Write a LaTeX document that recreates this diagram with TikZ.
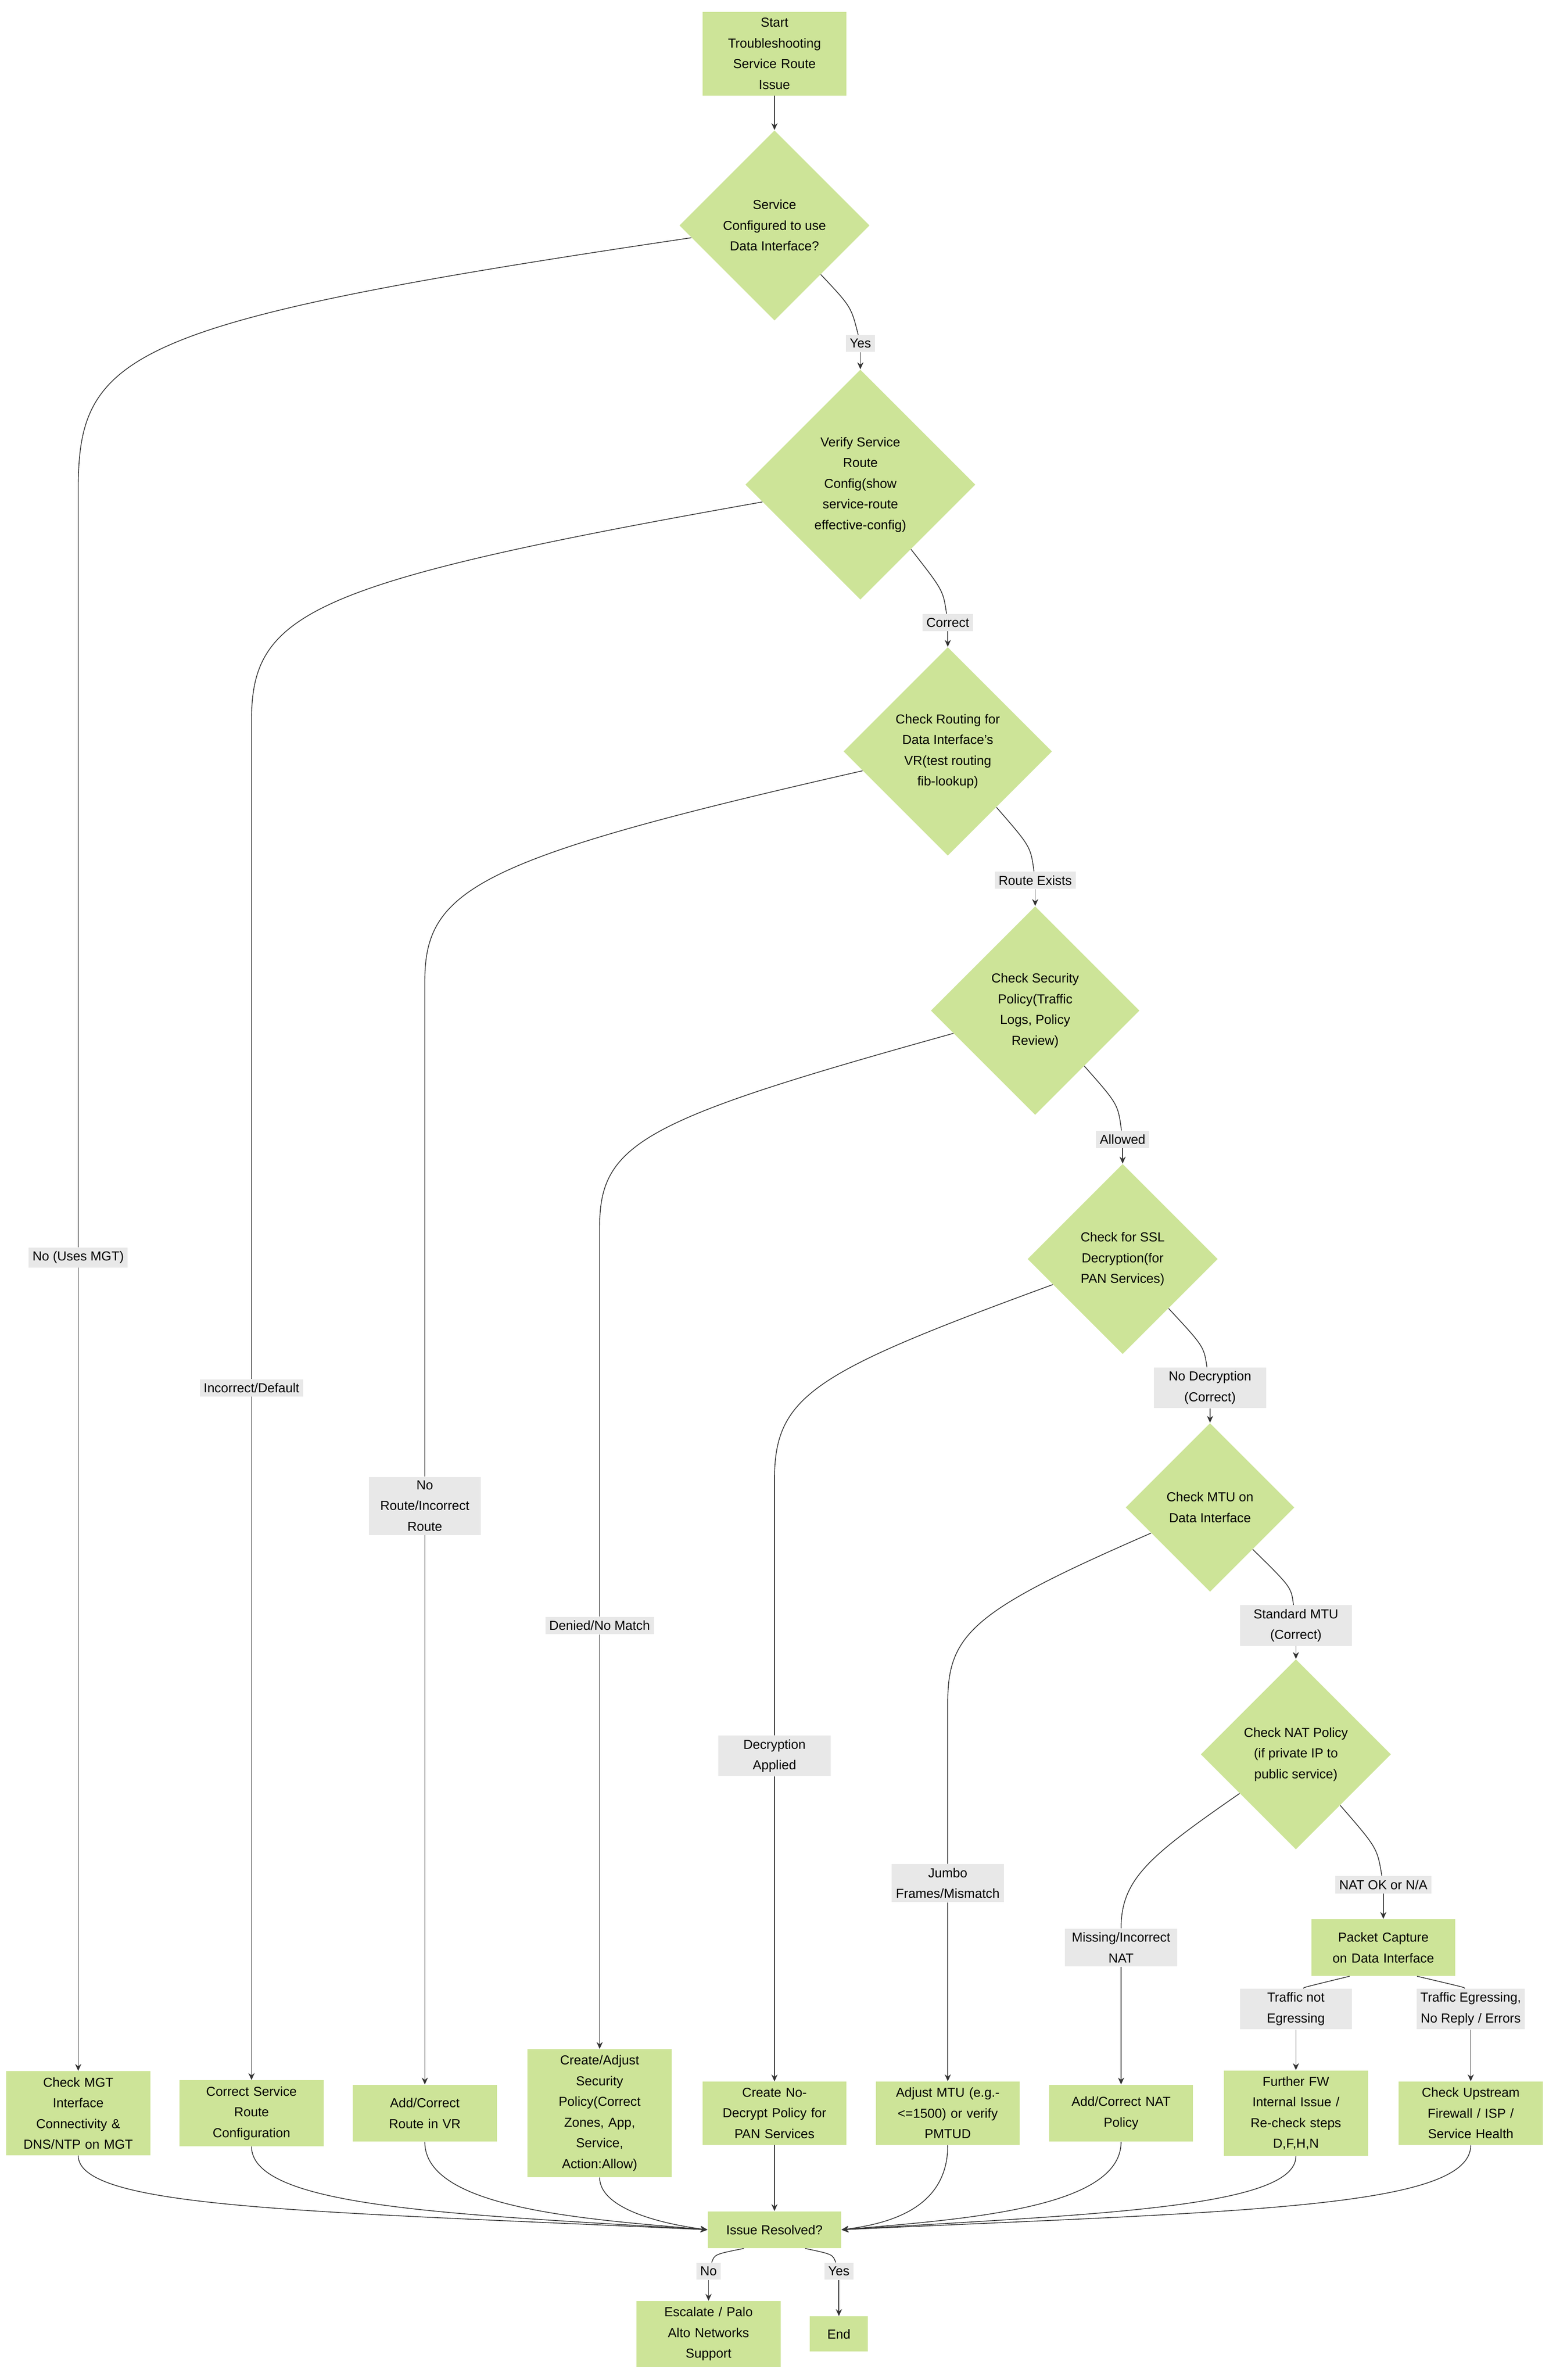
\documentclass[tikz,border=0pt]{standalone}
\usepackage{fontspec}
\setmainfont{Liberation Sans}
\usetikzlibrary{shapes.geometric,arrows.meta}

\definecolor{nodegreen}{HTML}{CDE498}
\definecolor{labelgray}{HTML}{E8E8E8}
\definecolor{linegray}{HTML}{333333}

\tikzset{
  boxbase/.style={fill=nodegreen, align=center, inner xsep=4pt, inner ysep=4pt,
    font=\fontsize{8.5}{13.5}\selectfont},
  stepbox/.style={boxbase, text width=86pt, minimum height=37pt},
  smallbox/.style={boxbase, inner ysep=2pt},
  decision/.style={diamond, fill=nodegreen, align=center, inner sep=0pt,
    font=\fontsize{8.5}{13.5}\selectfont},
  edgelabel/.style={fill=labelgray, align=center, inner sep=2.5pt,
    font=\fontsize{8.5}{13.5}\selectfont},
  line/.style={draw=linegray, line width=0.5pt},
  arr/.style={line, -{Stealth[length=4.5pt,width=4pt]}},
}

\begin{document}
\begin{tikzpicture}[x=1pt,y=-1pt]
  \useasboundingbox (0,0) rectangle (1010,1552);

  % main chain
  \node[stepbox] (start) at (505,35) {Start\\Troubleshooting\\Service Route\\Issue};
  \node[decision, minimum width=124pt, minimum height=124pt] (d1) at (505,147) {Service\\Configured to use\\Data Interface?};
  \node[decision, minimum width=150pt, minimum height=150pt] (d2) at (561,316) {Verify Service\\Route\\Config(show\\service-route\\effective-config)};
  \node[decision, minimum width=136pt, minimum height=136pt] (d3) at (618,490) {Check Routing for\\Data Interface's\\VR(test routing\\fib-lookup)};
  \node[decision, minimum width=136pt, minimum height=136pt] (d4) at (675,659) {Check Security\\Policy(Traffic\\Logs, Policy\\Review)};
  \node[decision, minimum width=124pt, minimum height=124pt] (d5) at (732,821) {Check for SSL\\Decryption(for\\PAN Services)};
  \node[decision, minimum width=110pt, minimum height=110pt] (d6) at (789,983) {Check MTU on\\Data Interface};
  \node[decision, minimum width=124pt, minimum height=124pt] (d7) at (845,1144) {Check NAT Policy\\(if private IP to\\public service)};
  \node[stepbox] (pcap) at (902,1270) {Packet Capture\\on Data Interface};

  % fixes
  \node[stepbox] (mgt) at (51,1378) {Check MGT\\Interface\\Connectivity \&\\DNS/NTP on MGT};
  \node[stepbox] (fixsr) at (164,1378) {Correct Service\\Route\\Configuration};
  \node[stepbox] (fixvr) at (277,1378) {Add/Correct\\Route in VR};
  \node[stepbox] (fixsec) at (391,1378) {Create/Adjust\\Security\\Policy(Correct\\Zones, App,\\Service,\\Action:Allow)};
  \node[stepbox] (fixssl) at (505,1378) {Create No-\\Decrypt Policy for\\PAN Services};
  \node[stepbox] (fixmtu) at (618,1378) {Adjust MTU (e.g.-\\<=1500) or verify\\PMTUD};
  \node[stepbox] (fixnat) at (731,1378) {Add/Correct NAT\\Policy};
  \node[stepbox] (fwint) at (845,1378) {Further FW\\Internal Issue /\\Re-check steps\\D,F,H,N};
  \node[stepbox] (upstr) at (959,1378) {Check Upstream\\Firewall / ISP /\\Service Health};

  \node[smallbox, minimum width=87pt, minimum height=24pt] (res) at (505,1454) {Issue Resolved?};
  \node[stepbox] (esc) at (462,1522) {Escalate / Palo\\Alto Networks\\Support};
  \node[smallbox, minimum width=38pt, minimum height=23pt] (done) at (547,1522) {End};

  % labels
  \node[edgelabel] (lyes) at (561,224) {Yes};
  \node[edgelabel] (lcorr) at (618,406) {Correct};
  \node[edgelabel] (lroute) at (675,574) {Route Exists};
  \node[edgelabel] (lallow) at (732,743) {Allowed};
  \node[edgelabel, minimum width=73pt] (lnodec) at (789,905) {No Decryption\\(Correct)};
  \node[edgelabel, minimum width=73pt] (lstd) at (845,1060) {Standard MTU\\(Correct)};
  \node[edgelabel] (lnat) at (902,1229) {NAT OK or N/A};
  \node[edgelabel, minimum width=73pt] (lnoeg) at (845,1310) {Traffic not\\Egressing};
  \node[edgelabel] (leg) at (959,1310) {Traffic Egressing,\\No Reply / Errors};
  \node[edgelabel] (lmgt) at (51,820) {No (Uses MGT)};
  \node[edgelabel] (lsr) at (164,905) {Incorrect/Default};
  \node[edgelabel, minimum width=73pt] (lvr) at (277,982) {No\\Route/Incorrect\\Route};
  \node[edgelabel] (lsec) at (391,1060) {Denied/No Match};
  \node[edgelabel, minimum width=73pt] (lssl) at (505,1145) {Decryption\\Applied};
  \node[edgelabel, minimum width=73pt] (lmtu) at (618,1228) {Jumbo\\Frames/Mismatch};
  \node[edgelabel, minimum width=73pt] (lnatx) at (731,1270) {Missing/Incorrect\\NAT};
  \node[edgelabel] (lno) at (462,1481) {No};
  \node[edgelabel] (lyes2) at (547,1481) {Yes};

  % bends of the left branches
  \coordinate (k1) at (51,320);
  \coordinate (k2) at (164,470);
  \coordinate (k3) at (277,640);
  \coordinate (k4) at (391,800);
  \coordinate (k5) at (505,965);
  \coordinate (k6) at (618,1110);

  % yes path
  \draw[arr] (start) -- (d1);
  \draw[line] (d1) .. controls (555,200) .. (lyes); \draw[arr] (lyes) -- (d2);
  \draw[line] (d2) .. controls (615,385) .. (lcorr); \draw[arr] (lcorr) -- (d3);
  \draw[line] (d3) .. controls (672,552) .. (lroute); \draw[arr] (lroute) -- (d4);
  \draw[line] (d4) .. controls (729,720) .. (lallow); \draw[arr] (lallow) -- (d5);
  \draw[line] (d5) .. controls (785,878) .. (lnodec); \draw[arr] (lnodec) -- (d6);
  \draw[line] (d6) .. controls (842,1035) .. (lstd); \draw[arr] (lstd) -- (d7);
  \draw[line] (d7) .. controls (898,1205) .. (lnat); \draw[arr] (lnat) -- (pcap);
  \draw[line] ([xshift=-22pt]pcap.south) .. controls (850,1296) .. (lnoeg); \draw[arr] (lnoeg) -- (fwint);
  \draw[line] ([xshift=22pt]pcap.south) .. controls (955,1296) .. (leg); \draw[arr] (leg) -- (upstr);

  % no paths
  \draw[line] (d1) .. controls (80,210) and (51,230) .. (k1) -- (lmgt); \draw[arr] (lmgt) -- (mgt);
  \draw[line] (d2) .. controls (200,380) and (164,400) .. (k2) -- (lsr); \draw[arr] (lsr) -- (fixsr);
  \draw[line] (d3) .. controls (310,560) and (277,580) .. (k3) -- (lvr); \draw[arr] (lvr) -- (fixvr);
  \draw[line] (d4) .. controls (420,730) and (391,745) .. (k4) -- (lsec); \draw[arr] (lsec) -- (fixsec);
  \draw[line] (d5) .. controls (530,895) and (505,910) .. (k5) -- (lssl); \draw[arr] (lssl) -- (fixssl);
  \draw[line] (d6) .. controls (635,1050) and (618,1065) .. (k6) -- (lmtu); \draw[arr] (lmtu) -- (fixmtu);
  \draw[line] (d7) .. controls (750,1210) and (731,1225) .. (lnatx); \draw[arr] (lnatx) -- (fixnat);

  % back to the check
  \draw[arr] (mgt.south) .. controls (51,1440) and (200,1442) .. (res.west);
  \draw[arr] (fixsr.south) .. controls (164,1440) and (300,1444) .. (res.west);
  \draw[arr] (fixvr.south) .. controls (277,1440) and (380,1447) .. (res.west);
  \draw[arr] (fixsec.south) .. controls (391,1440) and (430,1450) .. (res.west);
  \draw[arr] (fixssl) -- (res);
  \draw[arr] (fixmtu.south) .. controls (618,1440) and (580,1450) .. (res.east);
  \draw[arr] (fixnat.south) .. controls (731,1440) and (630,1447) .. (res.east);
  \draw[arr] (fwint.south) .. controls (845,1440) and (710,1444) .. (res.east);
  \draw[arr] (upstr.south) .. controls (959,1440) and (810,1442) .. (res.east);

  \draw[line] ([xshift=-20pt]res.south) .. controls (466,1470) .. (lno); \draw[arr] (lno) -- (esc);
  \draw[line] ([xshift=20pt]res.south) .. controls (543,1470) .. (lyes2); \draw[arr] (lyes2) -- (done);
\end{tikzpicture}
\end{document}
